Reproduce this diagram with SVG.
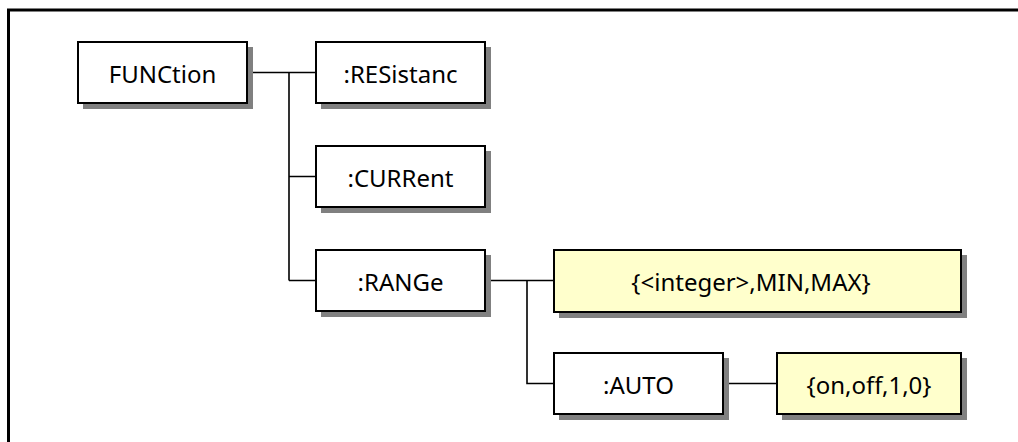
<svg xmlns="http://www.w3.org/2000/svg" width="1018" height="442" viewBox="0 0 1018 442">
<style>
.box{fill:#ffffff;stroke:#000000;stroke-width:2}
.val{fill:#ffffcc;stroke:#000000;stroke-width:2}
.sh{fill:#808080}
.lbl{font-family:"Noto Sans","Open Sans","DejaVu Sans",sans-serif;font-size:24px;fill:#000000;text-anchor:middle}
.con{fill:none;stroke:#000000;stroke-width:1.6}
.frame{fill:none;stroke:#000000;stroke-width:3}
</style>
<rect width="1018" height="442" fill="#ffffff"/>
<path class="frame" d="M8.5,442 V10 H1018"/>
<g id="connectors">
<path class="con" d="M247,72.5 H316 M289,72.5 V280.5 M289,176.5 H316 M289,280.5 H316"/>
<path class="con" d="M485,280.5 H554 M527,280.5 V383.5 H554"/>
<path class="con" d="M723,383.5 H777"/>
</g>
<g id="FUNCtion">
<rect class="sh" x="83" y="47" width="170" height="62"/>
<rect class="box" x="78" y="42" width="169" height="61"/>
<text class="lbl" x="162.5" y="82.5">FUNCtion</text>
</g>
<g id="RESistanc">
<rect class="sh" x="321" y="47" width="170" height="62"/>
<rect class="box" x="316" y="42" width="169" height="61"/>
<text class="lbl" x="400.5" y="82.5">:RESistanc</text>
</g>
<g id="CURRent">
<rect class="sh" x="321" y="151" width="170" height="62"/>
<rect class="box" x="316" y="146" width="169" height="61"/>
<text class="lbl" x="400.5" y="186.5">:CURRent</text>
</g>
<g id="RANGe">
<rect class="sh" x="321" y="255" width="170" height="62"/>
<rect class="box" x="316" y="250" width="169" height="61"/>
<text class="lbl" x="400.5" y="290.5">:RANGe</text>
</g>
<g id="RangeValues">
<rect class="sh" x="559" y="255" width="408" height="63"/>
<rect class="val" x="554" y="250" width="407" height="62"/>
<text class="lbl" x="751" y="291">{&lt;integer&gt;,MIN,MAX}</text>
</g>
<g id="AUTO">
<rect class="sh" x="559" y="358" width="170" height="62"/>
<rect class="box" x="554" y="353" width="169" height="61"/>
<text class="lbl" x="638.5" y="393.5">:AUTO</text>
</g>
<g id="AutoValues">
<rect class="sh" x="782" y="358" width="185" height="62"/>
<rect class="val" x="777" y="353" width="184" height="61"/>
<text class="lbl" x="869" y="393.5">{on,off,1,0}</text>
</g>
</svg>
